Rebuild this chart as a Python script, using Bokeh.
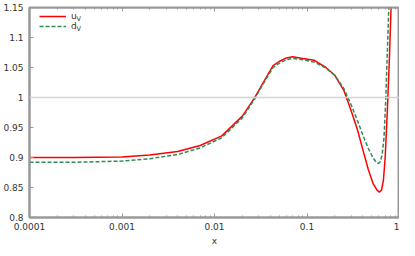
from bokeh.plotting import figure
from bokeh.models import (FixedTicker, LogAxis, Span, Legend, LegendItem, Label)
from bokeh.embed import file_html
from bokeh.resources import INLINE

# ---- data ----
x_u = [1e-4, 3e-4, 1e-3, 2e-3, 4e-3, 7e-3, 0.012, 0.02, 0.027, 0.034, 0.043, 0.05,
       0.06, 0.07, 0.09, 0.12, 0.16, 0.2, 0.25, 0.3, 0.35, 0.4, 0.46, 0.52, 0.57,
       0.605, 0.64, 0.67, 0.70, 0.74, 0.78, 0.81, 0.83]
u_v = [0.900, 0.900, 0.901, 0.904, 0.910, 0.920, 0.936, 0.969, 0.999, 1.026, 1.053, 1.060,
       1.066, 1.068, 1.065, 1.062, 1.050, 1.037, 1.012, 0.978, 0.947, 0.914, 0.880, 0.856, 0.846,
       0.842, 0.846, 0.862, 0.900, 0.980, 1.070, 1.150, 1.210]

x_d = [1e-4, 3e-4, 1e-3, 2e-3, 4e-3, 7e-3, 0.012, 0.02, 0.027, 0.034, 0.043, 0.05,
       0.06, 0.07, 0.09, 0.12, 0.16, 0.2, 0.25, 0.3, 0.35, 0.4, 0.46, 0.52, 0.56,
       0.59, 0.62, 0.65, 0.68, 0.71, 0.73, 0.75, 0.78]
d_v = [0.892, 0.892, 0.894, 0.898, 0.905, 0.916, 0.933, 0.966, 0.997, 1.024, 1.050, 1.057,
       1.063, 1.065, 1.063, 1.059, 1.049, 1.037, 1.015, 0.988, 0.962, 0.938, 0.915, 0.899, 0.892,
       0.890, 0.893, 0.905, 0.933, 0.995, 1.053, 1.105, 1.190]

x_ticks = [1e-4, 1e-3, 1e-2, 1e-1, 1.0]
x_tick_labels = ["0.0001", "0.001", "0.01", "0.1", "1"]
x_minor = [m * 10.0 ** e for e in range(-4, 0) for m in range(2, 10)]
y_ticks = [0.8, 0.85, 0.9, 0.95, 1.0, 1.05, 1.1, 1.15]
y_tick_labels = ["0.8", "0.85", "0.9", "0.95", "1", "1.05", "1.1", "1.15"]
series_names = ["u", "d"]
subscript = "V"
ref_level = 1.0
x_lo, x_hi = 1e-4, 1.0
y_lo, y_hi = 0.8, 1.15

FONT = "DejaVu Sans"
TXT = "#333333"
AX = "#999999"

p = figure(width=399, height=248, x_axis_type="log", x_range=(x_lo, x_hi), y_range=(y_lo, y_hi),
           output_backend="svg", toolbar_location=None, min_border=0,
           min_border_left=22, min_border_right=0, min_border_top=7, min_border_bottom=26)
p.outline_line_color = AX
p.outline_line_width = 2
p.xgrid.visible = False
p.ygrid.visible = False
p.background_fill_color = "white"

xt = FixedTicker(ticks=x_ticks, minor_ticks=x_minor)
yt = FixedTicker(ticks=y_ticks)

def style(ax, labels=True):
    ax.axis_line_color = AX
    ax.axis_line_width = 2
    ax.major_tick_line_color = AX
    ax.minor_tick_line_color = AX
    ax.major_tick_in = 4
    ax.major_tick_out = 0
    ax.minor_tick_in = 2
    ax.minor_tick_out = 0
    ax.major_label_text_font = FONT
    ax.major_label_text_font_size = "9px" if labels else "1px"
    ax.major_label_text_color = TXT
    if not labels:
        ax.major_label_text_alpha = 0
    ax.axis_label_text_font = FONT
    ax.axis_label_text_font_size = "9px"
    ax.axis_label_text_font_style = "normal"
    ax.axis_label_text_color = TXT

xa = p.xaxis[0]
xa.ticker = xt
xa.major_label_overrides = {t: l for t, l in zip(x_ticks, x_tick_labels)}
xa.axis_label = "x"
style(xa)
xa.major_label_standoff = 5
xa.axis_label_standoff = 3

ya = p.yaxis[0]
ya.ticker = yt
ya.major_label_overrides = {t: l for t, l in zip(y_ticks, y_tick_labels)}
style(ya)
ya.major_label_standoff = 6
ya.minor_tick_line_color = None

top = LogAxis(ticker=xt, fixed_location=y_hi)
style(top, labels=False)
p.add_layout(top, "above")

p.add_layout(Span(location=ref_level, dimension="width", line_color="#d4d4d4", line_width=1.5))

r_u = p.line(x_u, u_v, line_color="#ff0000", line_width=1.5)
r_d = p.line(x_d, d_v, line_color="#2e8b57", line_width=1.5, line_dash="4 2")

legend = Legend(items=[LegendItem(label=series_names[0], renderers=[r_u]),
                       LegendItem(label=series_names[1], renderers=[r_d])],
                location=(10, 186), glyph_width=27, glyph_height=10, label_height=10,
                label_standoff=5, spacing=0, padding=0, margin=0,
                background_fill_alpha=0, border_line_alpha=0,
                label_text_font=FONT, label_text_font_size="9px", label_text_color=TXT)
p.add_layout(legend)

for i in range(2):
    p.add_layout(Label(x=47, y=199 - i * 10.5, x_units="screen", y_units="screen", text=subscript,
                       text_font=FONT, text_font_size="6.5px", text_color=TXT,
                       text_baseline="middle"))

open("out.html", "w").write(file_html(p, INLINE))
